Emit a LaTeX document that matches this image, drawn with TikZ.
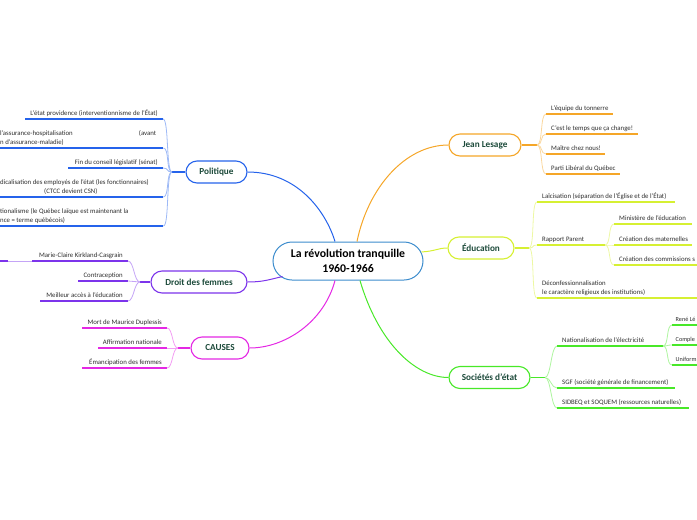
\documentclass[tikz,border=0pt]{standalone}
\usepackage{fontspec}
\setmainfont{Carlito}
\usetikzlibrary{calc}
\definecolor{cblue}{RGB}{37,99,235}
\definecolor{cpurple}{RGB}{124,52,235}
\definecolor{cmag}{RGB}{228,40,228}
\definecolor{corange}{RGB}{245,166,40}
\definecolor{cyel}{RGB}{214,240,50}
\definecolor{cgreen}{RGB}{72,232,40}
\definecolor{ccenter}{RGB}{60,140,205}
\definecolor{labelc}{RGB}{28,74,58}
\definecolor{leaftext}{RGB}{45,45,45}
\tikzset{
  mainnode/.style={draw=#1, line width=1.1pt, fill=white, rounded corners=11pt,
    minimum height=22pt, inner sep=0pt, text=labelc,
    font=\fontsize{9.2}{11}\selectfont\bfseries},
  centernode/.style={draw=ccenter, line width=1pt, fill=white, rounded corners=19pt,
    minimum height=38pt, minimum width=150pt, inner sep=0pt, align=center,
    font=\fontsize{11.8}{15}\selectfont\bfseries},
  leaf/.style={inner xsep=5pt, inner ysep=2pt, text depth=1.6pt, text=leaftext,
    font=\fontsize{6.8}{9}\selectfont},
  multi/.style={text depth={}},
  leafL/.style={leaf, anchor=south east},
  leafR/.style={leaf, anchor=south west},
  edgeleaf/.style={leafR, inner xsep=3.5pt, font=\fontsize{6.2}{9}\selectfont},
  cutleaf/.style={leaf, multi, anchor=south west, inner xsep=0pt, text width=163pt, align=flush left},
  ul/.style={draw=#1, line width=1.8pt},
  stub/.style={draw=#1, line width=1.5pt},
  lcon/.style={draw=#1!45, line width=0.8pt},
  mcon/.style={draw=#1, line width=1pt},
}
\begin{document}
\begin{tikzpicture}[x=1pt,y=-1pt]
\useasboundingbox (0,0) rectangle (697,520);

% ---- main nodes
\node[centernode] (c) at (348,261) {La révolution tranquille\\1960-1966};
\node[mainnode=cblue, minimum width=61pt] (pol) at (216.5,172) {Politique};
\node[mainnode=cpurple, minimum width=96pt] (dro) at (199,282) {Droit des femmes};
\node[mainnode=cmag, minimum width=58pt] (cau) at (220,348) {CAUSES};
\node[mainnode=corange, minimum width=72pt] (jl) at (485,145) {Jean Lesage};
\node[mainnode=cyel, minimum width=66pt] (edu) at (481,248) {Éducation};
\node[mainnode=cgreen, minimum width=81pt] (soc) at (489.5,377.5) {Sociétés d'état};

% ---- main connectors
\draw[mcon=cblue] (pol.east) .. controls (298,172) and (326,212) .. ($(c.north)+(-13,0)$);
\draw[mcon=corange] ($(c.north)+(9,0)$) .. controls (368,188) and (405,145) .. (jl.west);
\draw[mcon=cyel] ($(c.east)+(-2,-9)$) .. controls (436,251) and (438,248) .. (edu.west);
\draw[mcon=cgreen] ($(c.south)+(12,0)$) .. controls (378,342) and (415,377.5) .. (soc.west);
\draw[mcon=cmag] ($(c.south)+(-13,0)$) .. controls (324,322) and (285,348) .. (cau.east);
\draw[mcon=cpurple] ($(c.south west)+(10,-4)$) .. controls (268,280) and (262,282) .. (dro.east);

% ---- Politique
\coordinate (pb) at (172,172);
\draw[stub=cblue] (pol.west) -- (pb);
\node[leafL] (p1) at (163,119) {L'état providence (interventionnisme de l'État)};
\node[cutleaf] (p2) at (0,148) {\hbox to 156pt{l'assurance-hospitalisation\hfill(avant}\\n d'assurance-maladie)};
\node[leafL] (p3) at (163,168) {Fin du conseil législatif (sénat)};
\node[cutleaf] (p4) at (0,197) {dicalisation des employés de l'état (les fonctionnaires)\\\hspace*{44pt}(CTCC devient CSN)};
\node[cutleaf] (p5) at (0,226) {tionalisme (le Québec laïque est maintenant la\\nce = terme québécois)};
\draw[ul=cblue] (p1.south east) -- ++(-138,0);
\draw[ul=cblue] (p2.south east) -- (p2.south west);
\draw[ul=cblue] (p3.south east) -- ++(-95,0);
\draw[ul=cblue] (p4.south east) -- (p4.south west);
\draw[ul=cblue] (p5.south east) -- (p5.south west);
\foreach \n in {p1,p2,p3,p4,p5}
  \draw[lcon=cblue] (pb) .. controls +(-6,0) and +(6,0) .. (\n.south east);

% ---- Droit des femmes
\coordinate (db) at (140,282);
\draw[stub=cpurple] (dro.west) -- (db);
\node[leafL] (d1) at (128,261) {Marie-Claire Kirkland-Casgrain};
\node[leafL] (d2) at (128,281) {Contraception};
\node[leafL] (d3) at (128,301) {Meilleur accès à l'éducation};
\draw[ul=cpurple] (d1.south east) -- ++(-96,0) coordinate (d1w);
\draw[ul=cpurple] (d2.south east) -- ++(-50,0);
\draw[ul=cpurple] (d3.south east) -- ++(-88,0);
\foreach \n in {d1,d2,d3}
  \draw[lcon=cpurple] (db) .. controls +(-6,0) and +(6,0) .. (\n.south east);
\coordinate (d1c) at (8,261);
\coordinate (d1e) at (0,261);
\draw[lcon=cpurple] (d1w) -- (d1c);
\draw[ul=cpurple] (d1c) -- (d1e);

% ---- CAUSES
\coordinate (cb) at (178,348);
\draw[stub=cmag] (cau.west) -- (cb);
\node[leafL] (c1) at (167,328) {Mort de Maurice Duplessis};
\node[leafL] (c2) at (167,348) {Affirmation nationale};
\node[leafL] (c3) at (167,368) {Émancipation des femmes};
\draw[ul=cmag] (c1.south east) -- ++(-85,0);
\draw[ul=cmag] (c2.south east) -- ++(-69,0);
\draw[ul=cmag] (c3.south east) -- ++(-85,0);
\foreach \n in {c1,c2,c3}
  \draw[lcon=cmag] (cb) .. controls +(-6,0) and +(6,0) .. (\n.south east);

% ---- Jean Lesage
\coordinate (jb) at (537,145);
\draw[stub=corange] (jl.east) -- (jb);
\node[leafR] (j1) at (546,114) {L'équipe du tonnerre};
\node[leafR] (j2) at (546,134) {C'est le temps que ça change!};
\node[leafR] (j3) at (546,154) {Maître chez nous!};
\node[leafR] (j4) at (546,174) {Parti Libéral du Québec};
\draw[ul=corange] (j1.south west) -- ++(67,0);
\draw[ul=corange] (j2.south west) -- ++(92,0);
\draw[ul=corange] (j3.south west) -- ++(59,0);
\draw[ul=corange] (j4.south west) -- ++(74,0);
\foreach \n in {j1,j2,j3,j4}
  \draw[lcon=corange] (jb) .. controls +(6,0) and +(-6,0) .. (\n.south west);

% ---- Education
\coordinate (eb) at (529,248);
\draw[stub=cyel] (edu.east) -- (eb);
\node[leafR] (e1) at (537,202) {Laïcisation (séparation de l'Église et de l'État)};
\node[leafR] (e2) at (537,245) {Rapport Parent};
\node[leafR, multi, align=flush left] (e3) at (537,298) {Déconfessionnalisation\\le caractère religieux des institutions)};
\draw[ul=cyel] (e1.south west) -- ++(138,0);
\draw[ul=cyel] (e2.south west) -- ++(68,0) coordinate (e2b);
\draw[ul=cyel] (e3.south west) -- ++(160,0);
\foreach \n in {e1,e2,e3}
  \draw[lcon=cyel] (eb) .. controls +(6,0) and +(-6,0) .. (\n.south west);
\node[leafR] (e21) at (614,224) {Ministère de l'éducation};
\node[leafR] (e22) at (614,245) {Création des maternelles};
\node[leafR] (e23) at (614,265) {Création des commissions s};
\draw[ul=cyel] (e21.south west) -- ++(78,0);
\draw[ul=cyel] (e22.south west) -- ++(78,0);
\draw[ul=cyel] (e23.south west) -- ++(83,0);
\foreach \n in {e21,e22,e23}
  \draw[lcon=cyel] (e2b) .. controls +(6,0) and +(-6,0) .. (\n.south west);

% ---- Societes d'etat
\coordinate (sb) at (545,377.5);
\draw[stub=cgreen] (soc.east) -- (sb);
\node[leafR] (s1) at (557,346) {Nationalisation de l'électricité};
\node[leafR] (s2) at (557,388) {SGF (société générale de financement)};
\node[leafR] (s3) at (557,408) {SIDBEQ et SOQUEM (ressources naturelles)};
\draw[ul=cgreen] (s1.south west) -- ++(106,0) coordinate (s1b);
\draw[ul=cgreen] (s2.south west) -- ++(118,0);
\draw[ul=cgreen] (s3.south west) -- ++(132,0);
\foreach \n in {s1,s2,s3}
  \draw[lcon=cgreen] (sb) .. controls +(6,0) and +(-6,0) .. (\n.south west);
\node[edgeleaf] (s11) at (672,325) {René Lé};
\node[edgeleaf] (s12) at (672,345) {Comple};
\node[edgeleaf] (s13) at (672,365) {Uniform};
\draw[ul=cgreen] (s11.south west) -- ++(25,0);
\draw[ul=cgreen] (s12.south west) -- ++(25,0);
\draw[ul=cgreen] (s13.south west) -- ++(25,0);
\foreach \n in {s11,s12,s13}
  \draw[lcon=cgreen] (s1b) .. controls +(6,0) and +(-6,0) .. (\n.south west);
\end{tikzpicture}
\end{document}
